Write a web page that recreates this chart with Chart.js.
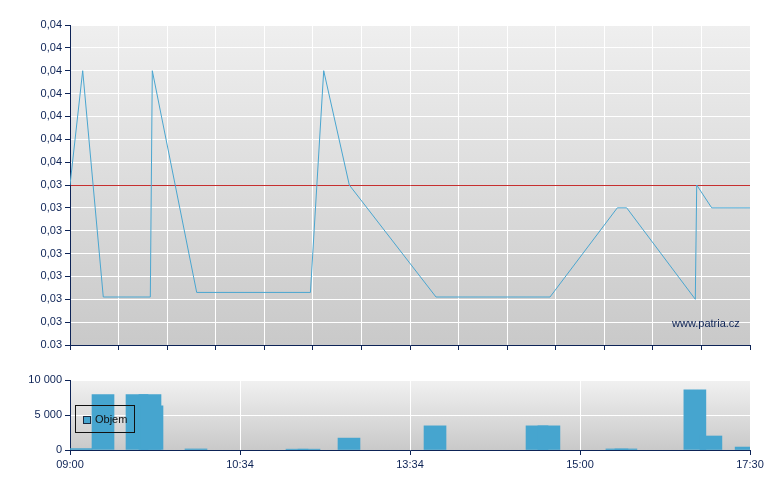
<!DOCTYPE html>
<html>
<head>
<meta charset="utf-8">
<script src="https://cdn.jsdelivr.net/npm/chart.js@4/dist/chart.umd.min.js"></script>
<style>
    html, body { margin: 0; padding: 0; background: #fff; }
    body { width: 780px; height: 490px; position: relative; overflow: hidden; font-family: 'Liberation Sans', Arial, sans-serif; }
    canvas { position: absolute; left: 0; }
    #priceChart { top: 0; }
    #volumeChart { top: 360px; }
    .watermark { position: absolute; left: 672px; top: 317px; font-size: 11px; color: #0d2356; }
    .legend { position: absolute; left: 75px; top: 405px; width: 58px; height: 26px; border: 1px solid #111; }
    .legend .swatch { position: absolute; left: 7px; top: 10px; width: 6px; height: 6px; border: 1px solid #1b2a40; background: #46a5cf; }
    .legend .label { position: absolute; left: 19px; top: 7px; font-size: 11px; color: #111; }
</style>
</head>
<body>
<canvas id="priceChart" width="780" height="360"></canvas>
<canvas id="volumeChart" width="780" height="130"></canvas>
<div class="watermark">www.patria.cz</div>
<div class="legend"><span class="swatch"></span><span class="label">Objem</span></div>

<script>
// x is a trade-index axis (0..28), time labels sit on every 7th unit
const xTickPos = [0, 7, 14, 21, 28];
const xTickLabels = ['09:00', '10:34', '13:34', '15:00', '17:30'];
const xGridPos = [0, 2, 4, 6, 8, 10, 12, 14, 16, 18, 20, 22, 24, 26, 28];

// price line
const priceX = [0, 0.523, 1.371, 3.307, 3.389, 5.217, 9.90, 10.447, 11.501, 15.071, 19.765, 22.536, 22.923, 25.748, 25.806, 26.423, 28];
const priceY = [0.0349, 0.0354, 0.03441, 0.03441, 0.0354, 0.03443, 0.03443, 0.0354, 0.0349, 0.03441, 0.03441, 0.0348, 0.0348, 0.0344, 0.0349, 0.0348, 0.0348];
const prevClose = 0.0349;

const yTickValues = [0.0342, 0.0343, 0.0344, 0.0345, 0.0346, 0.0347, 0.0348, 0.0349, 0.0350, 0.0351, 0.0352, 0.0353, 0.0354, 0.0355, 0.0356];
const yTickLabels = ['0.03', '0,03', '0,03', '0,03', '0,03', '0,03', '0,03', '0,03', '0,04', '0,04', '0,04', '0,04', '0,04', '0,04', '0,04'];

// volume bars
const volX = [0.453, 1.359, 2.759, 3.294, 3.376, 5.188, 9.347, 9.841, 11.488, 15.03, 19.23, 19.72, 22.52, 22.89, 25.73, 26.39, 27.84];
const volY = [200, 7900, 7900, 7900, 6300, 150, 120, 120, 1700, 3450, 3450, 3450, 150, 150, 8600, 2000, 420];
const volTickValues = [0, 5000, 10000];
const volTickLabels = ['0', '5 000', '10 000'];

const NAVY = '#0d2356';
const FONT = { family: "'Liberation Sans', Arial, sans-serif", size: 11 };

const gradientBg = {
    id: 'gradientBg',
    beforeDraw(chart, args, opts) {
        const { ctx, chartArea: a } = chart;
        const g = ctx.createLinearGradient(0, a.top, 0, a.bottom);
        g.addColorStop(0, opts.from);
        g.addColorStop(1, opts.to);
        ctx.save();
        ctx.fillStyle = g;
        ctx.fillRect(a.left, a.top, a.right - a.left, a.bottom - a.top);
        ctx.restore();
    }
};

function fixedTicks(values) {
    return scale => { scale.ticks = values.map(v => ({ value: v })); };
}

new Chart(document.getElementById('priceChart'), {
    type: 'line',
    data: {
        datasets: [{
            data: priceX.map((x, i) => ({ x: x, y: priceY[i] })),
            borderColor: '#4aa6d0',
            borderWidth: 1,
            pointRadius: 0,
            tension: 0
        }]
    },
    options: {
        responsive: false,
        animation: false,
        layout: { padding: { top: 25, right: 30, left: 0, bottom: 0 } },
        plugins: {
            legend: { display: false },
            tooltip: { enabled: false },
            gradientBg: { from: '#efefef', to: '#c9c9c9' }
        },
        scales: {
            x: {
                type: 'linear',
                min: 0,
                max: 28,
                afterBuildTicks: fixedTicks(xGridPos),
                afterFit: s => { s.height = 15; },
                grid: { color: '#ffffff', tickColor: NAVY, tickLength: 5 },
                border: { color: NAVY, width: 1 },
                ticks: { display: false, autoSkip: false }
            },
            y: {
                min: 0.0342,
                max: 0.0356,
                afterBuildTicks: fixedTicks(yTickValues),
                afterFit: s => { s.width = 70; },
                grid: {
                    // previous close drawn as a red reference grid line
                    color: c => (c.tick && c.tick.value === prevClose) ? '#c62f2f' : '#ffffff',
                    tickColor: NAVY,
                    tickLength: 5
                },
                border: { color: NAVY, width: 1 },
                ticks: {
                    autoSkip: false,
                    color: NAVY,
                    font: FONT,
                    padding: 3,
                    callback: (v, i) => yTickLabels[i]
                }
            }
        }
    },
    plugins: [gradientBg]
});

new Chart(document.getElementById('volumeChart'), {
    type: 'bar',
    data: {
        datasets: [{
            label: 'Objem',
            data: volX.map((x, i) => ({ x: x, y: volY[i] })),
            backgroundColor: '#46a5cf',
            borderWidth: 0,
            barThickness: 22,
            clip: 0
        }]
    },
    options: {
        responsive: false,
        animation: false,
        layout: { padding: { top: 20, right: 30, left: 0, bottom: 0 } },
        plugins: {
            legend: { display: false },
            tooltip: { enabled: false },
            gradientBg: { from: '#f1f1f1', to: '#c9c9c9' }
        },
        scales: {
            x: {
                type: 'linear',
                offset: false,
                min: 0,
                max: 28,
                afterBuildTicks: fixedTicks(xTickPos),
                afterFit: s => { s.height = 40; },
                grid: { color: '#ffffff', tickColor: NAVY, tickLength: 5, offset: false },
                border: { color: NAVY, width: 1 },
                ticks: {
                    autoSkip: false,
                    maxRotation: 0,
                    color: NAVY,
                    font: FONT,
                    padding: 3,
                    callback: (v, i) => xTickLabels[i]
                }
            },
            y: {
                min: 0,
                max: 10000,
                afterBuildTicks: fixedTicks(volTickValues),
                afterFit: s => { s.width = 70; },
                grid: { color: '#ffffff', tickColor: NAVY, tickLength: 5 },
                border: { color: NAVY, width: 1 },
                ticks: {
                    autoSkip: false,
                    color: NAVY,
                    font: FONT,
                    padding: 3,
                    callback: (v, i) => volTickLabels[i]
                }
            }
        }
    },
    plugins: [gradientBg]
});
</script>
</body>
</html>
